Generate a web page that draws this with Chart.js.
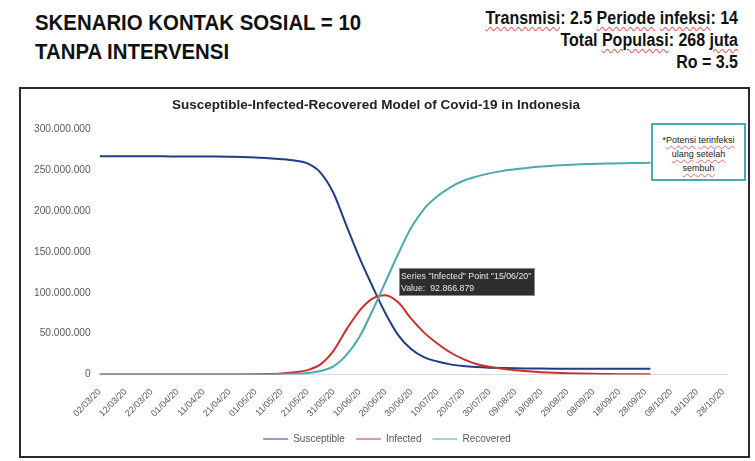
<!DOCTYPE html>
<html>
<head>
<meta charset="utf-8">
<script src="https://cdn.jsdelivr.net/npm/chart.js@4.4.0/dist/chart.umd.min.js"></script>
<style>
body{margin:0;background:#fff;font-family:"Liberation Sans",Arial,sans-serif;}
#page{position:relative;width:755px;height:461px;overflow:hidden;background:#fff;}
.hl{position:absolute;left:35px;font-weight:bold;font-size:20.4px;line-height:20px;color:#111;white-space:nowrap;transform:scaleY(1.12);transform-origin:0 0;}
.hr{position:absolute;right:17px;font-weight:bold;font-size:16px;line-height:16px;color:#111;white-space:nowrap;text-align:right;transform:scaleY(1.1);transform-origin:100% 0;}
.sp{text-decoration:underline wavy #e06666;text-decoration-thickness:1px;text-underline-offset:2px;}
#frame{position:absolute;left:19px;top:87px;width:731px;height:371px;box-sizing:border-box;border:2px solid #2b2b2b;}
#cv{position:absolute;left:0;top:0;}
#note{position:absolute;left:652px;top:123px;width:95px;height:58px;box-sizing:border-box;border:2px solid #4aabaa;background:#fff;font-size:9px;line-height:14px;text-align:center;padding-top:8px;color:#222;z-index:5;}
</style>
</head>
<body>
<div id="page">
  <div class="hl" style="top:11px">SKENARIO KONTAK SOSIAL = 10</div>
  <div class="hl" style="top:40px">TANPA INTERVENSI</div>
  <div class="hr" style="top:10px"><span class="sp">Transmisi</span>: 2.5 <span class="sp">Periode</span> <span class="sp">infeksi</span>: 14</div>
  <div class="hr" style="top:32px">Total <span class="sp">Populasi</span>: 268 <span class="sp">juta</span></div>
  <div class="hr" style="top:54px">Ro = 3.5</div>
  <div id="frame"></div>
  <canvas id="cv" width="755" height="461"></canvas>
  <div id="note">*<span class="sp">Potensi</span> <span class="sp">terinfeksi</span><br><span class="sp">ulang</span> <span class="sp">setelah</span><br><span class="sp">sembuh</span></div>
</div>
<script>
// days since 02/03/20
const days = [0,5,10,15,20,25,30,35,40,45,50,55,60,65,70,75,80,85,90,95,100,105,110,115,120,125,130,135,140,145,150,155,160,165,170,175,180,185,190,195,200,205,210,212];

// values in millions of people
const susceptible = [266.8,266.8,266.8,266.8,266.8,266.8,266.7,266.7,266.6,266.5,266.3,266.0,265.4,264.6,263.4,261.6,258.2,247,222,182,143,108,75,48,31,21,16,12.5,10.5,9.3,8.5,8.0,7.7,7.5,7.3,7.2,7.1,7.1,7.0,7.0,7.0,7.0,7.0,7.0];
const infected = [0,0,0,0,0,0,0,0,0.01,0.02,0.05,0.12,0.3,0.7,1.4,2.8,5.5,12.5,29,55,78,92.866879,97,88,68,51,38,27,19,13,9.5,7,5.3,4.0,3.0,2.2,1.6,1.2,0.9,0.7,0.5,0.4,0.3,0.3];
const recovered = [0,0,0,0,0,0,0,0,0,0,0,0,0.05,0.15,0.4,0.9,2.0,4.5,10,24,46,78,113,148,180,203,218,229,237,242,246,249,251,253,254.5,255.5,256.3,257,257.5,258,258.3,258.6,258.8,258.9];

const tickLabels = ["02/03/20","12/03/20","22/03/20","01/04/20","11/04/20","21/04/20","01/05/20","11/05/20","21/05/20","31/05/20","10/06/20","20/06/20","30/06/20","10/07/20","20/07/20","30/07/20","09/08/20","19/08/20","29/08/20","08/09/20","18/09/20","28/09/20","08/10/20","18/10/20","28/10/20"];

const seriesNames = ["Susceptible","Infected","Recovered"];
const seriesColors = ["#1f3c84","#c8322b","#4aabaa"];
const tipDay = 105;

const fmt = v => String(Math.round(v)).replace(/\B(?=(\d{3})+(?!\d))/g, ".");
const pts = arr => arr.map((v,i) => ({x: days[i], y: v*1e6}));
const dayLabel = d => {
  const dt = new Date(2020, 2, 2 + d);
  return String(dt.getDate()).padStart(2,"0")+"/"+String(dt.getMonth()+1).padStart(2,"0")+"/20";
};

Chart.defaults.font.family = "'Liberation Sans', Arial, sans-serif";

const extras = {
  id: "extras",
  afterLayout(chart){
    // legend sits a bit right of centre in the original
    chart.legend.left += 11;
    chart.legend.right += 11;
  },
  afterDraw(chart){
    const ctx = chart.ctx;
    const meta = chart.getDatasetMeta(1);
    const i = days.indexOf(tipDay);
    const p = meta.data[i];
    const x0 = Math.round(p.x + 27), y0 = Math.round(p.y - 31);
    ctx.save();
    ctx.fillStyle = "#2e2e2e";
    ctx.fillRect(x0, y0, 136, 28);
    ctx.strokeStyle = "#8c8c8c";
    ctx.lineWidth = 1;
    ctx.strokeRect(x0+0.5, y0+0.5, 135, 27);
    ctx.fillStyle = "#e6e6e6";
    ctx.font = "8.8px 'Liberation Sans', Arial";
    ctx.textBaseline = "middle";
    ctx.fillText('Series "Infected" Point "' + dayLabel(tipDay) + '"', x0+2, y0+9);
    ctx.fillText("Value:  " + fmt(infected[i]*1e6), x0+2, y0+21);
    ctx.restore();

    const rm = chart.getDatasetMeta(2);
    const last = rm.data[rm.data.length-1];
    const note = document.getElementById("note");
    note.style.left = Math.round(last.x + 1) + "px";
    note.style.top = Math.round(last.y - 40) + "px";
  }
};

new Chart(document.getElementById("cv"), {
  type: "line",
  data: {
    datasets: [
      {label: seriesNames[0], data: pts(susceptible), borderColor: seriesColors[0], backgroundColor: seriesColors[0], order: 3},
      {label: seriesNames[1], data: pts(infected), borderColor: seriesColors[1], backgroundColor: seriesColors[1], order: 2},
      {label: seriesNames[2], data: pts(recovered), borderColor: seriesColors[2], backgroundColor: seriesColors[2], order: 1}
    ]
  },
  options: {
    responsive: false,
    animation: false,
    events: [],
    elements: {
      line: {borderWidth: 2, cubicInterpolationMode: "monotone"},
      point: {radius: 0}
    },
    layout: {padding: {left: 25, right: 28, top: 97, bottom: 7}},
    scales: {
      x: {
        type: "linear",
        min: 0,
        max: 241.5,
        grid: {display: false},
        border: {display: true, color: "#d9d9d9", width: 1},
        afterBuildTicks: s => { s.ticks = tickLabels.map((_, k) => ({value: k*10})); },
        ticks: {
          autoSkip: false,
          maxRotation: 45,
          minRotation: 45,
          padding: 4,
          color: "#595959",
          font: {size: 9},
          callback: v => tickLabels[Math.round(v/10)] ?? ""
        }
      },
      y: {
        min: 0,
        max: 300000000,
        grid: {display: false, drawTicks: false},
        border: {display: false},
        ticks: {
          stepSize: 50000000,
          padding: 9,
          color: "#595959",
          font: {size: 10.2},
          callback: v => fmt(v)
        }
      }
    },
    plugins: {
      title: {
        display: true,
        text: "Susceptible-Infected-Recovered Model of Covid-19 in Indonesia",
        color: "#222",
        font: {size: 13.5, weight: "bold"},
        padding: {top: 0, bottom: 16}
      },
      legend: {
        position: "bottom",
        reverse: true,
        labels: {
          usePointStyle: true,
          pointStyle: "line",
          pointStyleWidth: 25,
          boxHeight: 10,
          padding: 11,
          color: "#595959",
          font: {size: 10}
        }
      },
      tooltip: {enabled: false}
    }
  },
  plugins: [extras]
});
</script>
</body>
</html>
